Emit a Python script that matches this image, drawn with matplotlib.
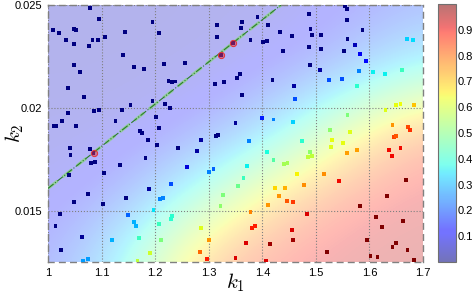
import numpy as np
import matplotlib
matplotlib.use('Agg')
import matplotlib.pyplot as plt
from matplotlib.colors import ListedColormap, Normalize
from matplotlib.cm import ScalarMappable

plt.rcParams['font.family'] = ['Liberation Sans', 'DejaVu Sans']
plt.rcParams['mathtext.fontset'] = 'cm'

# ---------------- data ----------------
k1 = [
    1.079, 1.096, 1.010, 1.021, 1.049, 1.052, 1.107, 1.033, 1.049, 1.076,
    1.083, 1.093, 1.143, 1.195, 1.207, 1.140, 1.048, 1.060, 1.160, 1.179,
    1.217, 1.225, 1.232, 1.238, 1.038, 1.067, 1.154, 1.195, 1.218, 1.228,
    1.138, 1.086, 1.095, 1.037, 1.026, 1.011, 1.015, 1.126, 1.201, 1.052,
    1.172, 1.176, 1.207,
    1.391, 1.316, 1.362, 1.360, 1.410, 1.315, 1.378, 1.401, 1.408, 1.433,
    1.456, 1.345, 1.323, 1.439, 1.256, 1.358, 1.352, 1.329, 1.312, 1.419,
    1.459, 1.362, 1.461, 1.400, 1.421, 1.457, 1.350, 1.313, 1.317,
    1.554, 1.558, 1.487, 1.558, 1.490, 1.493, 1.510, 1.587, 1.559, 1.487,
    1.510, 1.573, 1.553, 1.582, 1.594, 1.489, 1.507, 1.580, 1.607, 1.629,
    1.660, 1.670, 1.681, 1.524, 1.549, 1.577, 1.650, 1.658, 1.684, 1.630,
    1.559, 1.527, 1.564, 1.643, 1.672, 1.676, 1.646, 1.650,
    1.041, 1.078, 1.085, 1.042, 1.080, 1.087, 1.040, 1.104, 1.134, 1.182,
    1.187, 1.203, 1.074, 1.049, 1.103, 1.145, 1.188, 1.229, 1.209, 1.214,
    1.022, 1.014, 1.149, 1.161, 1.164, 1.197, 1.231, 1.229, 1.208, 1.170,
    1.211, 1.119, 1.064, 1.024, 1.191, 1.065, 1.074, 1.167,
    1.286, 1.242, 1.278, 1.375, 1.409, 1.421, 1.441, 1.447, 1.464, 1.259,
    1.309, 1.300, 1.371, 1.365, 1.355, 1.327, 1.322, 1.423, 1.443, 1.432,
    1.446, 1.457, 1.411, 1.378, 1.386, 1.381, 1.286, 1.456, 1.457, 1.301,
    1.370, 1.414, 1.283, 1.296, 1.350, 1.407,
    1.474, 1.530, 1.528, 1.551, 1.489, 1.485, 1.492, 1.558, 1.577, 1.637,
    1.642, 1.658, 1.478, 1.515, 1.543, 1.669, 1.633, 1.582, 1.484, 1.612,
    1.624, 1.663, 1.595, 1.649, 1.643, 1.671, 1.520, 1.602, 1.615, 1.683,
]
k2 = [
    0.02484, 0.02432, 0.02380, 0.02365, 0.02382, 0.02377, 0.02346, 0.02328, 0.02310, 0.02301,
    0.02331, 0.02328, 0.02367, 0.02419, 0.02365, 0.02258, 0.02210, 0.02174, 0.02200, 0.02189,
    0.02212, 0.02132, 0.02125, 0.02128, 0.02095, 0.02054, 0.02015, 0.02035, 0.02018, 0.01999,
    0.01991, 0.01986, 0.01988, 0.01975, 0.01934, 0.01913, 0.01911, 0.01936, 0.01954, 0.01910,
    0.01886, 0.01877, 0.01900,
    0.02443, 0.02404, 0.02416, 0.02388, 0.02403, 0.02346, 0.02331, 0.02319, 0.02325, 0.02367,
    0.02348, 0.02315, 0.02257, 0.02278, 0.02219, 0.02163, 0.02146, 0.02125, 0.02114, 0.02137,
    0.02106, 0.02064, 0.02041, 0.01952, 0.01943, 0.01932, 0.01926, 0.01864, 0.01868,
    0.02495, 0.02482, 0.02455, 0.02428, 0.02385, 0.02356, 0.02354, 0.02378, 0.02333, 0.02294,
    0.02285, 0.02307, 0.02275, 0.02263, 0.02229, 0.02207, 0.02185, 0.02178, 0.02173, 0.02166,
    0.02182, 0.02333, 0.02328, 0.02135, 0.02142, 0.02105, 0.02015, 0.02020, 0.02015, 0.01989,
    0.01963, 0.01893, 0.01884, 0.01915, 0.01905, 0.01892, 0.01858, 0.01864,
    0.01803, 0.01800, 0.01782, 0.01769, 0.01731, 0.01735, 0.01672, 0.01681, 0.01722, 0.01757,
    0.01842, 0.01818, 0.01581, 0.01540, 0.01532, 0.01563, 0.01605, 0.01628, 0.01558, 0.01561,
    0.01483, 0.01425, 0.01477, 0.01446, 0.01426, 0.01503, 0.01472, 0.01457, 0.01436, 0.01365,
    0.01358, 0.01357, 0.01372, 0.01307, 0.01292, 0.01256, 0.01265, 0.01256,
    0.01842, 0.01804, 0.01791, 0.01840, 0.01786, 0.01748, 0.01728, 0.01731, 0.01677, 0.01713,
    0.01704, 0.01689, 0.01718, 0.01660, 0.01620, 0.01574, 0.01521, 0.01610, 0.01608, 0.01571,
    0.01545, 0.01542, 0.01529, 0.01492, 0.01425, 0.01414, 0.01415, 0.01407, 0.01358, 0.01357,
    0.01341, 0.01338, 0.01299, 0.01265, 0.01269, 0.01253,
    0.01840, 0.01845, 0.01811, 0.01830, 0.01785, 0.01761, 0.01764, 0.01779, 0.01796, 0.01795,
    0.01766, 0.01803, 0.01626, 0.01679, 0.01642, 0.01647, 0.01572, 0.01522, 0.01482, 0.01470,
    0.01422, 0.01448, 0.01357, 0.01341, 0.01323, 0.01308, 0.01297, 0.01279, 0.01273, 0.01260,
]
val = [
    0, 0, 0, 0, 0, 0, 0, 0, 0, 0,
    0, 0, 0, 0, 0, 0, 0, 0, 0, 0,
    0, 0, 0, 0, 0, 0, 0, 0, 0, 0,
    0, 0, 0, 0, 0, 0, 0, 0, 0, 0,
    0, 0, 0,
    0, 0, 0, 0, 0, 0, 0, 0, 0, 0,
    0, 0, 0, 0, 0, 0, 0, 0, 0, 0,
    0.03, 0, 0.2, 0.15, 0.25, 0.33, 0.02, 0, 0,
    0, 0, 0, 0, 0, 0, 0, 0, 0, 0,
    0, 0.05, 0, 0.1, 0.13, 0, 0.03, 0.25, 0.36, 0.36,
    0.42, 0.33, 0.34, 0.2, 0.2, 0.4, 0.63, 0.64, 0.7, 0.62,
    0.5, 0.52, 0.62, 0.75, 0.83, 0.86, 0.84, 0.82,
    0, 0, 0, 0, 0, 0, 0, 0, 0, 0,
    0, 0, 0, 0, 0, 0, 0.03, 0.2, 0.25, 0.25,
    0, 0, 0.22, 0.3, 0.3, 0.35, 0.4, 0.4, 0.42, 0.42,
    0.5, 0.3, 0.02, 0, 0.6, 0.28, 0.28, 0.58,
    0.03, 0, 0.03, 0.25, 0.38, 0.45, 0.55, 0.55, 0.65, 0.08,
    0.22, 0.25, 0.36, 0.42, 0.48, 0.5, 0.52, 0.68, 0.72, 0.75,
    0.82, 0.85, 0.75, 0.77, 0.88, 0.88, 0.62, 0.92, 0.97, 0.75,
    0.92, 0.97, 0.8, 0.88, 0.92, 0.92,
    0.4, 0.63, 0.62, 0.63, 0.52, 0.58, 0.58, 0.74, 0.74, 0.9,
    0.9, 0.9, 0.76, 0.76, 0.9, 1.0, 1.0, 1.0, 0.92, 1.0,
    1.0, 1.0, 1.0, 1.0, 1.0, 1.0, 1.0, 1.0, 1.0, 1.0,
]

circled_k1 = [1.085, 1.323, 1.345]
circled_k2 = [0.01782, 0.02257, 0.02315]

line_k1 = [1.0, 1.435]
line_k2 = [0.01608, 0.02500]

# background field sampled on a coarse grid (rows from top k2 to bottom k2)
field_k1 = [1.0, 1.14, 1.28, 1.42, 1.56, 1.7]
field_k2 = [0.025, 0.021875, 0.01875, 0.015625, 0.0125]
field = [
    [0.06, 0.06, 0.06, 0.07, 0.11, 0.17],
    [0.06, 0.06, 0.07, 0.11, 0.21, 0.38],
    [0.07, 0.08, 0.14, 0.31, 0.62, 0.85],
    [0.09, 0.17, 0.42, 0.72, 0.88, 0.93],
    [0.14, 0.37, 0.78, 0.90, 0.94, 0.95],
]

x_ticks = [1.0, 1.1, 1.2, 1.3, 1.4, 1.5, 1.6, 1.7]
x_labels = ['1', '1.1', '1.2', '1.3', '1.4', '1.5', '1.6', '1.7']
y_ticks = [0.015, 0.02, 0.025]
y_labels = ['0.015', '0.02', '0.025']
cbar_ticks = [0.1, 0.2, 0.3, 0.4, 0.5, 0.6, 0.7, 0.8, 0.9]

# ---------------- plot ----------------
W, H = 472, 293
fig = plt.figure(figsize=(W / 100, H / 100), dpi=100)
ax = fig.add_axes([48 / W, 1 - 262 / H, 375 / W, 257 / H])
cax = fig.add_axes([438 / W, 1 - 262 / H, 18 / W, 258 / H])

dx = field_k1[1] - field_k1[0]
dy = field_k2[0] - field_k2[1]
ext = [field_k1[0] - dx / 2, field_k1[-1] + dx / 2,
       field_k2[-1] - dy / 2, field_k2[0] + dy / 2]
ax.imshow(np.array(field), extent=ext, origin='upper', aspect='auto',
          cmap='jet', vmin=0, vmax=1, alpha=0.3, interpolation='bicubic',
          zorder=0)

ax.plot(line_k1, line_k2, color='#8fd08f', lw=2.2, ls=(0, (4, 2)), zorder=2,
        alpha=0.85)
ax.plot(line_k1, line_k2, color='#2a7d2a', lw=0.8, ls='-.', zorder=2.1)

ax.scatter(k1, k2, c=val, cmap='jet', vmin=0, vmax=1, marker='s', s=8,
           linewidths=0, zorder=3)
ax.scatter(circled_k1, circled_k2, marker='o', s=20,
           facecolors=(0.85, 0.2, 0.25, 0.5), edgecolors=(0.9, 0.2, 0.2),
           linewidths=0.7, zorder=4)

ax.set_xlim(1.0, 1.7)
ax.set_ylim(0.0125, 0.025)
ax.set_xticks(x_ticks)
ax.set_xticklabels(x_labels)
ax.set_yticks(y_ticks)
ax.set_yticklabels(y_labels)
ax.tick_params(length=0, labelsize=8, pad=4)
ax.grid(True, linestyle=':', color='#808080', lw=0.8)
for s in ax.spines.values():
    s.set_linestyle((0, (4, 4)))
    s.set_color('#808080')
    s.set_linewidth(1.0)

ax.set_xlabel(r'$k_1$', fontsize=15)
ax.xaxis.set_label_coords(0.5, -0.038)
ax.set_ylabel(r'$k_2$', fontsize=15)
ax.yaxis.set_label_coords(-0.058, 0.5)

cols = plt.get_cmap('jet')(np.linspace(0, 1, 256))
cols[:, 3] = 0.55
cmap_a = ListedColormap(cols)
sm = ScalarMappable(norm=Normalize(0, 1), cmap=cmap_a)
cb = fig.colorbar(sm, cax=cax, ticks=cbar_ticks)
cb.ax.tick_params(labelsize=8, length=0, pad=1)
cb.outline.set_edgecolor('#707070')
cb.outline.set_linewidth(0.8)

fig.savefig('out.png', dpi=100)
